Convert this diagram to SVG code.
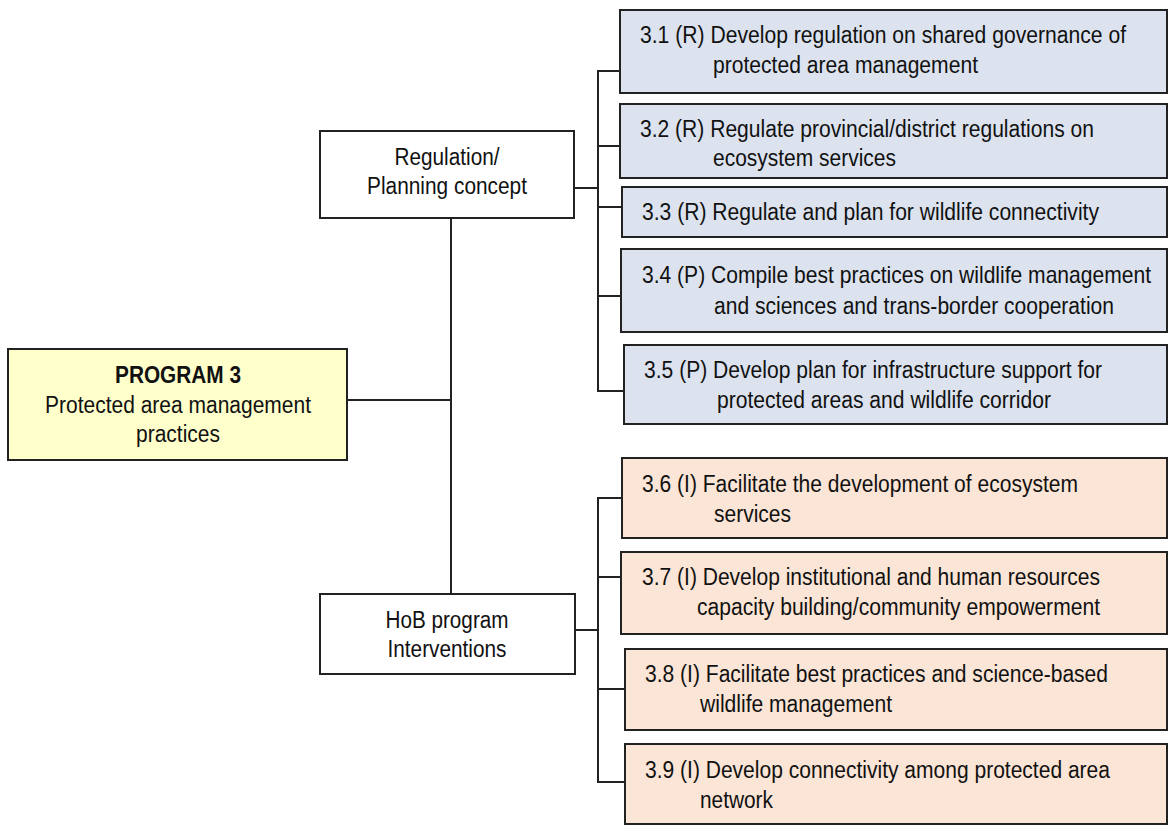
<svg xmlns="http://www.w3.org/2000/svg" width="1169" height="826" viewBox="0 0 1169 826">
<style>
  text { font-family: "Liberation Sans", Arial, sans-serif; font-size: 23px; fill: #111; }
  .c { text-anchor: middle; }
  .b { font-weight: bold; }
  .box { stroke: #222; stroke-width: 2; }
  .white { fill: #ffffff; }
  .yellow { fill: #ffffcc; }
  .blue { fill: #dce3ef; }
  .orange { fill: #fbe5d6; }
  .conn line { stroke: #222; stroke-width: 2; }
</style>
<rect width="1169" height="826" fill="#ffffff"/>

<g class="conn" id="connectors">
  <line x1="347" y1="400" x2="451" y2="400"/>
  <line x1="451" y1="218" x2="451" y2="594"/>
  <line x1="574" y1="188" x2="598" y2="188"/>
  <line x1="598" y1="71" x2="598" y2="391"/>
  <line x1="597" y1="71" x2="620" y2="71"/>
  <line x1="597" y1="146" x2="620" y2="146"/>
  <line x1="597" y1="207" x2="622" y2="207"/>
  <line x1="597" y1="296" x2="621" y2="296"/>
  <line x1="597" y1="391" x2="624" y2="391"/>
  <line x1="575" y1="630" x2="598" y2="630"/>
  <line x1="598" y1="498" x2="598" y2="782"/>
  <line x1="597" y1="498" x2="622" y2="498"/>
  <line x1="597" y1="577" x2="621" y2="577"/>
  <line x1="597" y1="689" x2="625" y2="689"/>
  <line x1="597" y1="782" x2="625" y2="782"/>
</g>

<g id="program3">
  <rect class="box yellow" x="8" y="349" width="339" height="111"/>
  <text class="c b" x="178" y="383" textLength="126" lengthAdjust="spacingAndGlyphs">PROGRAM 3</text>
  <text class="c" x="178" y="413" textLength="266" lengthAdjust="spacingAndGlyphs">Protected area management</text>
  <text class="c" x="178" y="442" textLength="84" lengthAdjust="spacingAndGlyphs">practices</text>
</g>

<g id="regulation">
  <rect class="box white" x="320" y="131" width="254" height="87"/>
  <text class="c" x="447" y="165" textLength="105" lengthAdjust="spacingAndGlyphs">Regulation/</text>
  <text class="c" x="447" y="194" textLength="160" lengthAdjust="spacingAndGlyphs">Planning concept</text>
</g>

<g id="hob">
  <rect class="box white" x="320" y="594" width="255" height="80"/>
  <text class="c" x="447" y="628" textLength="123" lengthAdjust="spacingAndGlyphs">HoB program</text>
  <text class="c" x="447" y="657" textLength="119" lengthAdjust="spacingAndGlyphs">Interventions</text>
</g>

<g id="n31">
  <rect class="box blue" x="620" y="10" width="547" height="83"/>
  <text x="640" y="43" textLength="486" lengthAdjust="spacingAndGlyphs">3.1 (R) Develop regulation on shared governance of</text>
  <text x="713" y="73" textLength="265" lengthAdjust="spacingAndGlyphs">protected area management</text>
</g>

<g id="n32">
  <rect class="box blue" x="620" y="104" width="547" height="74"/>
  <text x="640" y="137" textLength="454" lengthAdjust="spacingAndGlyphs">3.2 (R) Regulate provincial/district regulations on</text>
  <text x="713" y="166" textLength="183" lengthAdjust="spacingAndGlyphs">ecosystem services</text>
</g>

<g id="n33">
  <rect class="box blue" x="622" y="187" width="545" height="50"/>
  <text x="642" y="220" textLength="457" lengthAdjust="spacingAndGlyphs">3.3 (R) Regulate and plan for wildlife connectivity</text>
</g>

<g id="n34">
  <rect class="box blue" x="621" y="249" width="546" height="83"/>
  <text transform="translate(642,283) scale(0.85,1)" x="0" y="0" textLength="598.8" lengthAdjust="spacingAndGlyphs">3.4 (P) Compile best practices on wildlife management</text>
  <text x="714" y="314" textLength="400" lengthAdjust="spacingAndGlyphs">and sciences and trans-border cooperation</text>
</g>

<g id="n35">
  <rect class="box blue" x="624" y="345" width="543" height="79"/>
  <text x="644" y="378" textLength="458" lengthAdjust="spacingAndGlyphs">3.5 (P) Develop plan for infrastructure support for</text>
  <text x="717" y="408" textLength="334" lengthAdjust="spacingAndGlyphs">protected areas and wildlife corridor</text>
</g>

<g id="n36">
  <rect class="box orange" x="622" y="458" width="545" height="80"/>
  <text x="642" y="492" textLength="436" lengthAdjust="spacingAndGlyphs">3.6 (I) Facilitate the development of ecosystem</text>
  <text x="714" y="522" textLength="77" lengthAdjust="spacingAndGlyphs">services</text>
</g>

<g id="n37">
  <rect class="box orange" x="621" y="552" width="546" height="82"/>
  <text x="642" y="585" textLength="458" lengthAdjust="spacingAndGlyphs">3.7 (I) Develop institutional and human resources</text>
  <text x="697" y="615" textLength="403" lengthAdjust="spacingAndGlyphs">capacity building/community empowerment</text>
</g>

<g id="n38">
  <rect class="box orange" x="625" y="649" width="542" height="81"/>
  <text x="645" y="682" textLength="463" lengthAdjust="spacingAndGlyphs">3.8 (I) Facilitate best practices and science-based</text>
  <text x="700" y="712" textLength="192" lengthAdjust="spacingAndGlyphs">wildlife management</text>
</g>

<g id="n39">
  <rect class="box orange" x="625" y="744" width="542" height="80"/>
  <text x="645" y="778" textLength="465" lengthAdjust="spacingAndGlyphs">3.9 (I) Develop connectivity among protected area</text>
  <text x="700" y="808" textLength="73" lengthAdjust="spacingAndGlyphs">network</text>
</g>
</svg>
